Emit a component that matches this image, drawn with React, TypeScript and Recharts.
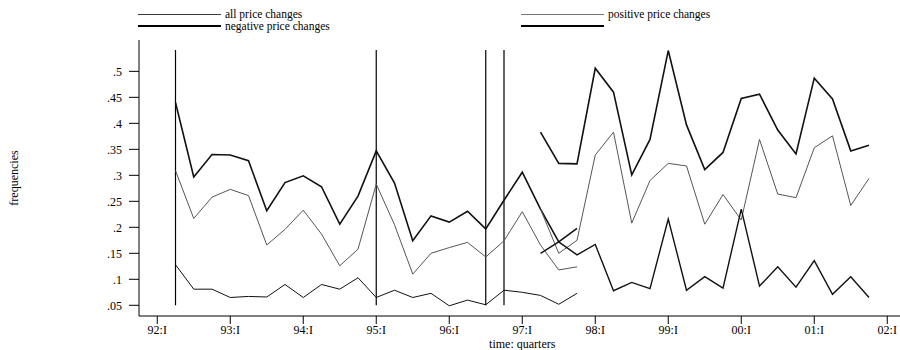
import React from 'react'
import { LineChart, Line, XAxis, YAxis, ReferenceLine } from 'recharts'

// quarters 92:II .. 01:IV
const quarterLabels = [
  '92:II', '92:III', '92:IV',
  '93:I', '93:II', '93:III', '93:IV',
  '94:I', '94:II', '94:III', '94:IV',
  '95:I', '95:II', '95:III', '95:IV',
  '96:I', '96:II', '96:III', '96:IV',
  '97:I', '97:II', '97:III', '97:IV',
  '98:I', '98:II', '98:III', '98:IV',
  '99:I', '99:II', '99:III', '99:IV',
  '00:I', '00:II', '00:III', '00:IV',
  '01:I', '01:II', '01:III', '01:IV',
]

// first sample: 92:II .. 97:IV
const all1 = [.44, .297, .34, .339, .328, .232, .286, .299, .278, .206, .26, .347, .285, .174, .222, .21, .231, .197, .252, .306, .235, .172, .198]
const pos1 = [.309, .217, .258, .273, .261, .166, .196, .233, .187, .126, .158, .283, .205, .11, .15, .161, .171, .143, .174, .23, .166, .118, .124]
const neg1 = [.128, .081, .081, .065, .067, .066, .09, .065, .09, .081, .103, .065, .079, .065, .073, .049, .06, .051, .079, .075, .069, .052, .073]

// second sample: 97:II .. 01:IV
const sample2Start = 20
const all2 = [.383, .323, .322, .506, .46, .301, .369, .54, .397, .311, .344, .448, .456, .387, .341, .487, .447, .347, .358]
const pos2 = [.235, .15, .175, .339, .383, .208, .29, .323, .318, .206, .263, .214, .369, .264, .257, .353, .376, .242, .294]
const neg2 = [.15, .172, .147, .167, .078, .094, .082, .216, .079, .105, .083, .235, .087, .124, .085, .136, .071, .105, .065]

const xTickLabels = ['92:I', '93:I', '94:I', '95:I', '96:I', '97:I', '98:I', '99:I', '00:I', '01:I', '02:I']
const yTicks = [0.05, 0.1, 0.15, 0.2, 0.25, 0.3, 0.35, 0.4, 0.45, 0.5]
// vertical marker lines (quarter index, 92:I = 0)
const markerQuarters = [1, 12, 18, 19]
const markerSpan = [0.05, 0.541]

const xTicks = xTickLabels.map((_, i) => i * 4)

const rows = quarterLabels.map((label, i) => ({
  q: i + 1,
  label,
  all1: all1[i] ?? null,
  pos1: pos1[i] ?? null,
  neg1: neg1[i] ?? null,
  all2: i >= sample2Start ? all2[i - sample2Start] : null,
  pos2: i >= sample2Start ? pos2[i - sample2Start] : null,
  neg2: i >= sample2Start ? neg2[i - sample2Start] : null,
}))

const font = '"Liberation Serif", "Times New Roman", serif'
const tickStyle = { fontSize: 12, fill: '#000', fontFamily: font }

const legendItems = [
  { label: 'all price changes', left: 138, top: 14, color: '#3a3a3a', width: 1 },
  { label: 'negative price changes', left: 138, top: 26, color: '#000', width: 1.2 },
  { label: 'positive price changes', left: 521, top: 14, color: '#777', width: 1 },
  { label: '', left: 521, top: 26, color: '#000', width: 1.6 },
]

const fmtY = (v: number) => String(Number(v.toFixed(2))).replace(/^0/, '')

export default function App() {
  return (
    <div style={{ position: 'absolute', left: 0, top: 0, width: 900, height: 350, overflow: 'hidden', background: '#fff', fontFamily: font }}>
      {legendItems.map((it) => (
        <div key={it.left + '-' + it.top}>
          <div style={{ position: 'absolute', left: it.left, top: it.top - it.width / 2, width: 83, height: it.width, background: it.color }} />
          {it.label && (
            <span style={{ position: 'absolute', left: it.left + 87, top: it.top - 5.5, fontSize: 11.5, lineHeight: '11px', whiteSpace: 'nowrap' }}>
              {it.label}
            </span>
          )}
        </div>
      ))}
      <LineChart width={920} height={350} data={rows} margin={{ top: 40, right: 14.5, bottom: 0, left: 0 }} style={{ fontFamily: font }}>
        <XAxis
          type="number"
          dataKey="q"
          domain={[-1, 41]}
          ticks={xTicks}
          tickFormatter={(v: number) => xTickLabels[v / 4] ?? ''}
          tick={tickStyle}
          tickSize={8}
          tickMargin={1}
          height={34}
          stroke="#000"
          interval={0}
          allowDataOverflow
          label={{ value: 'time: quarters', position: 'insideBottom', offset: 2, style: { fontSize: 12, fontFamily: font, fill: '#000' } }}
        />
        <YAxis
          type="number"
          domain={[0.0294, 0.5603]}
          ticks={yTicks}
          tickFormatter={fmtY}
          tick={tickStyle}
          tickSize={10}
          tickMargin={7}
          width={139}
          stroke="#000"
          interval={0}
          allowDataOverflow
          label={{ value: 'frequencies', angle: -90, position: 'insideLeft', offset: 14, style: { textAnchor: 'middle', fontSize: 12, fontFamily: font, fill: '#000' } }}
        />
        {markerQuarters.map((q, i) => (
          <ReferenceLine
            key={q}
            segment={[{ x: q, y: markerSpan[0] }, { x: q, y: markerSpan[1] }]}
            stroke={i === markerQuarters.length - 1 ? '#555' : '#000'}
            strokeWidth={i === markerQuarters.length - 1 ? 1.8 : 1.2}
          />
        ))}
        <Line dataKey="pos1" type="linear" stroke="#555" strokeWidth={1} dot={false} isAnimationActive={false} />
        <Line dataKey="neg1" type="linear" stroke="#111" strokeWidth={1} dot={false} isAnimationActive={false} />
        <Line dataKey="all1" type="linear" stroke="#111" strokeWidth={1.6} dot={false} isAnimationActive={false} />
        <Line dataKey="pos2" type="linear" stroke="#555" strokeWidth={1} dot={false} isAnimationActive={false} />
        <Line dataKey="neg2" type="linear" stroke="#111" strokeWidth={1.4} dot={false} isAnimationActive={false} />
        <Line dataKey="all2" type="linear" stroke="#111" strokeWidth={1.6} dot={false} isAnimationActive={false} />
      </LineChart>
    </div>
  )
}
